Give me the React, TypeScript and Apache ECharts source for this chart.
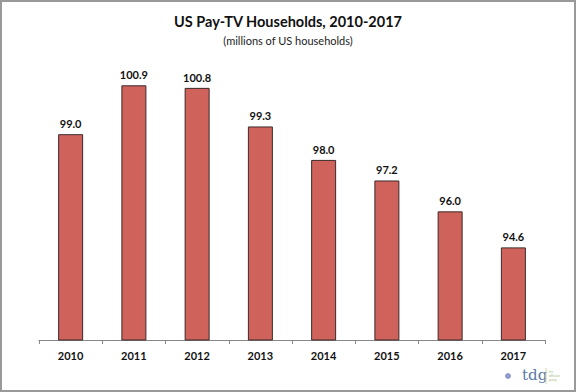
import React, { useEffect, useRef } from "react";
import * as echarts from "echarts";

const years = ["2010", "2011", "2012", "2013", "2014", "2015", "2016", "2017"];
const households = [99.0, 100.9, 100.8, 99.3, 98.0, 97.2, 96.0, 94.6];
const titleText = "US Pay-TV Households, 2010-2017";
const subtitleText = "(millions of US households)";

const FONT = "Lato, 'Open Sans', sans-serif";

export default function App() {
  const ref = useRef<HTMLDivElement>(null);
  useEffect(() => {
    if (!ref.current) return;
    const chart = echarts.init(ref.current, null, { renderer: "svg" });
    chart.setOption({
      animation: false,
      backgroundColor: "#ffffff",
      title: {
        text: titleText,
        subtext: subtitleText,
        left: "center",
        top: 9,
        itemGap: 6,
        textStyle: { fontFamily: FONT, fontSize: 14.5, fontWeight: "bold", color: "#111" },
        subtextStyle: { fontFamily: FONT, fontSize: 11, color: "#222" },
      },
      grid: { left: 39, right: 31, top: 57, bottom: 52 },
      xAxis: {
        type: "category",
        data: years,
        axisLine: { lineStyle: { color: "#888", width: 1 } },
        axisTick: { show: true, length: 4, lineStyle: { color: "#888" } },
        axisLabel: { fontFamily: FONT, fontSize: 11, fontWeight: "bold", color: "#111", margin: 10 },
      },
      yAxis: {
        type: "value",
        min: 91,
        max: 102,
        show: false,
        splitLine: { show: false },
      },
      series: [
        {
          type: "bar",
          data: households,
          barWidth: 25,
          itemStyle: { color: "#D0625C", borderColor: "#3a2a2a", borderWidth: 1 },
          label: {
            show: true,
            position: "top",
            distance: 5,
            fontFamily: FONT,
            fontSize: 11,
            fontWeight: "bold",
            color: "#111",
            formatter: (p: any) => Number(p.value).toFixed(1),
          },
        },
      ],
      graphic: [
        {
          type: "rect",
          shape: { x: 1, y: 1, width: 574, height: 390 },
          style: { fill: "none", stroke: "#999", lineWidth: 2 },
          silent: true,
        },
        {
          type: "circle",
          shape: { cx: 508, cy: 376, r: 3 },
          style: { fill: "#8E9BCB" },
        },
        {
          type: "text",
          x: 522,
          y: 375,
          style: {
            text: "tdg",
            font: "15px 'DejaVu Serif', serif",
            fill: "#5a78a8",
            verticalAlign: "middle",
          },
        },
        {
          type: "line",
          shape: { x1: 546, y1: 368, x2: 546, y2: 384 },
          style: { stroke: "#c9d8a8", lineWidth: 1 },
        },
        {
          type: "text",
          x: 549,
          y: 376,
          style: {
            text: "the\ndiffusion\ngroup",
            font: "3px sans-serif",
            fill: "#a8c080",
            verticalAlign: "middle",
            lineHeight: 4,
          },
        },
      ],
    });
    return () => chart.dispose();
  }, []);
  return (
    <div
      ref={ref}
      style={{ position: "fixed", left: 0, top: 0, width: 576, height: 392 }}
    />
  );
}
